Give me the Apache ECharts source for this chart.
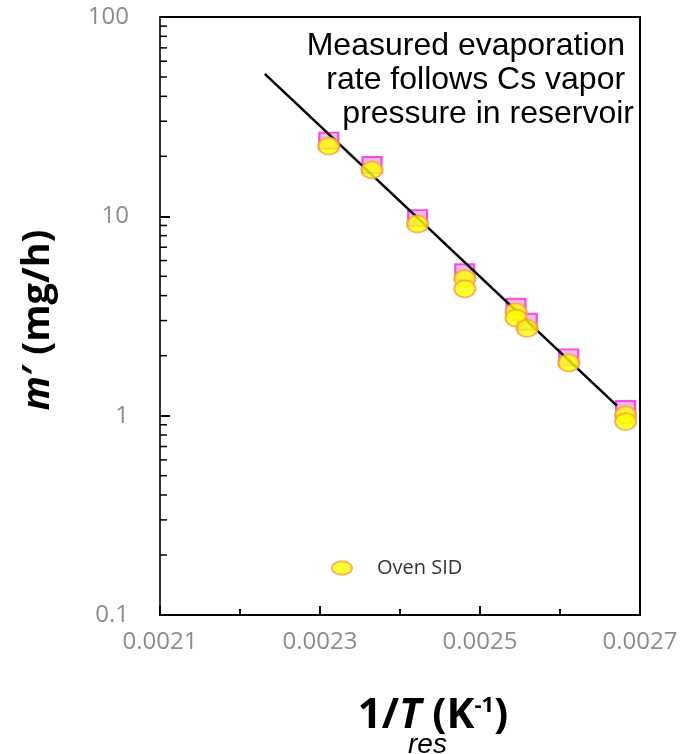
<!DOCTYPE html>
<html>
<head>
<meta charset="utf-8">
<script src="https://cdn.jsdelivr.net/npm/echarts@6/dist/echarts.min.js"></script>
<style>
  html, body { margin: 0; padding: 0; background: #ffffff; }
  #chart { width: 686px; height: 754px; }
</style>
</head>
<body>
<div id="chart"></div>
<script>
// Inverse reservoir temperature for each run (K^-1)
const invT = [0.002311, 0.002365, 0.002422, 0.002481, 0.002545, 0.002559, 0.002611, 0.002682];
// Evaporation rate drawn with square markers (mg/h)
const rateSquares = [24.0, 18.1, 9.8, 5.24, 3.52, 2.96, 1.96, 1.08];
// Oven SID runs, repeats included
const ovenX = [0.002311, 0.002365, 0.002422, 0.002481, 0.002481, 0.002545, 0.002545, 0.002559, 0.002611, 0.002682, 0.002682];
const ovenRate = [22.5, 17.1, 9.15, 4.87, 4.33, 3.32, 3.09, 2.74, 1.84, 1.01, 0.934];
// Cs vapor-pressure curve, straight on these axes
const fitX = [0.002231, 0.002671];
const fitRate = [51.8, 1.124];
// Axis ranges and the log minor tick values
const xRange = [0.0021, 0.0027];
const yRange = [0.1, 100];
const yMinorTicks = [0.2, 0.3, 0.4, 0.5, 0.6, 0.7, 0.8, 0.9,
                     2, 3, 4, 5, 6, 7, 8, 9,
                     20, 30, 40, 50, 60, 70, 80, 90];

const ELLIPSE = 'path://M0,50 A50,50 0 1,1 100,50 A50,50 0 1,1 0,50 Z';
const ELLIPSE_WIDE = 'path://M0,40 A60,40 0 1,1 120,40 A60,40 0 1,1 0,40 Z';
const tickFont = 'Open Sans';
const arial = 'Liberation Sans, Arial, sans-serif';

const pairs = (xs, ys) => xs.map((x, i) => [x, ys[i]]);

const chart = echarts.init(document.getElementById('chart'), null, { renderer: 'canvas' });

const titleSize = 42;

chart.setOption({
  animation: false,
  backgroundColor: '#ffffff',
  grid: {
    left: 160, right: 46, top: 17, bottom: 139,
    show: true, borderColor: '#000', borderWidth: 2, backgroundColor: 'transparent'
  },
  legend: {
    left: 326, top: 553,
    itemWidth: 20, itemHeight: 14,
    data: [{ name: 'Oven SID', icon: ELLIPSE_WIDE }],
    textStyle: { fontFamily: tickFont, fontSize: 20, color: '#333333', padding: [0, 0, 0, 20] },
    selectedMode: false
  },
  xAxis: {
    type: 'value',
    min: xRange[0], max: xRange[1], interval: 0.0002,
    axisLine: { show: true, lineStyle: { color: '#000', width: 2 } },
    axisTick: { show: true, inside: true, length: 9, lineStyle: { color: '#000', width: 2 } },
    minorTick: { show: true, splitNumber: 2, length: 6, lineStyle: { color: '#000', width: 2 } },
    splitLine: { show: false },
    axisLabel: {
      margin: 15, color: '#8c8c8c', fontFamily: tickFont, fontSize: 24,
      formatter: v => v.toFixed(4)
    }
  },
  yAxis: {
    type: 'log', logBase: 10,
    min: yRange[0], max: yRange[1],
    axisLine: { show: true, lineStyle: { color: '#333', width: 2 } },
    axisTick: { show: true, inside: true, length: 10, lineStyle: { color: '#000', width: 2 } },
    splitLine: { show: false },
    axisLabel: {
      margin: 31, color: '#8c8c8c', fontFamily: tickFont, fontSize: 24,
      formatter: v => String(+v.toPrecision(3))
    }
  },
  series: [
    {
      // minor ticks of the log axis at 2..9 of each decade
      type: 'custom',
      silent: true,
      z: 5,
      data: yMinorTicks.map(v => [xRange[0], v]),
      renderItem: (params, api) => {
        const p = api.coord([api.value(0), api.value(1)]);
        return {
          type: 'line',
          shape: { x1: p[0], y1: p[1], x2: p[0] + 7, y2: p[1] },
          style: { stroke: '#000', lineWidth: 1.5 }
        };
      }
    },
    {
      name: 'Evaporation rate',
      type: 'scatter',
      data: pairs(invT, rateSquares),
      symbol: 'rect',
      symbolSize: [19, 16],
      itemStyle: { color: '#e9a9dc', borderColor: '#ff22dd', borderWidth: 2 },
      z: 2
    },
    {
      name: 'Cs vapor pressure',
      type: 'line',
      data: pairs(fitX, fitRate),
      symbol: 'none',
      lineStyle: { color: '#000', width: 2.5 },
      z: 3
    },
    {
      name: 'Oven SID',
      type: 'scatter',
      data: pairs(ovenX, ovenRate),
      symbol: ELLIPSE,
      symbolSize: [21, 17],
      itemStyle: { color: '#ffff00', borderColor: '#f6a141', borderWidth: 2 },
      z: 4
    }
  ],
  graphic: [
    {
      type: 'text',
      x: 634, y: 29,
      style: {
        text: 'Measured evaporation \nrate follows Cs vapor \npressure in reservoir',
        align: 'right', verticalAlign: 'top',
        fontFamily: arial,
        fontSize: 32, lineHeight: 34, fill: '#000'
      }
    },
    {
      type: 'text',
      x: 38, y: 320, rotation: Math.PI / 2,
      style: {
        text: '{i|m}{b|′ (mg/h)}',
        align: 'center', verticalAlign: 'middle',
        rich: {
          i: { fontFamily: tickFont, fontWeight: 'bold', fontStyle: 'italic', fontSize: 38, fill: '#000' },
          b: { fontFamily: tickFont, fontWeight: 'bold', fontSize: 38, fill: '#000' }
        }
      }
    },
    {
      type: 'text',
      x: 433, y: 716,
      style: {
        text: '{b|1/}{bi|T}{b| (K}{sup|-1}{b|)}',
        align: 'center', verticalAlign: 'middle',
        rich: {
          b: { fontFamily: tickFont, fontWeight: 'bold', fontSize: titleSize, fill: '#000' },
          bi: { fontFamily: tickFont, fontWeight: 'bold', fontStyle: 'italic', fontSize: titleSize, fill: '#000' },
          sup: { fontFamily: tickFont, fontWeight: 'bold', fontSize: 22, fill: '#000', verticalAlign: 'top' }
        }
      }
    },
    {
      type: 'text',
      x: 408, y: 731,
      style: {
        text: 'res',
        fontFamily: arial,
        fontStyle: 'italic', fontSize: 28, fill: '#000'
      }
    }
  ]
});
</script>
</body>
</html>
